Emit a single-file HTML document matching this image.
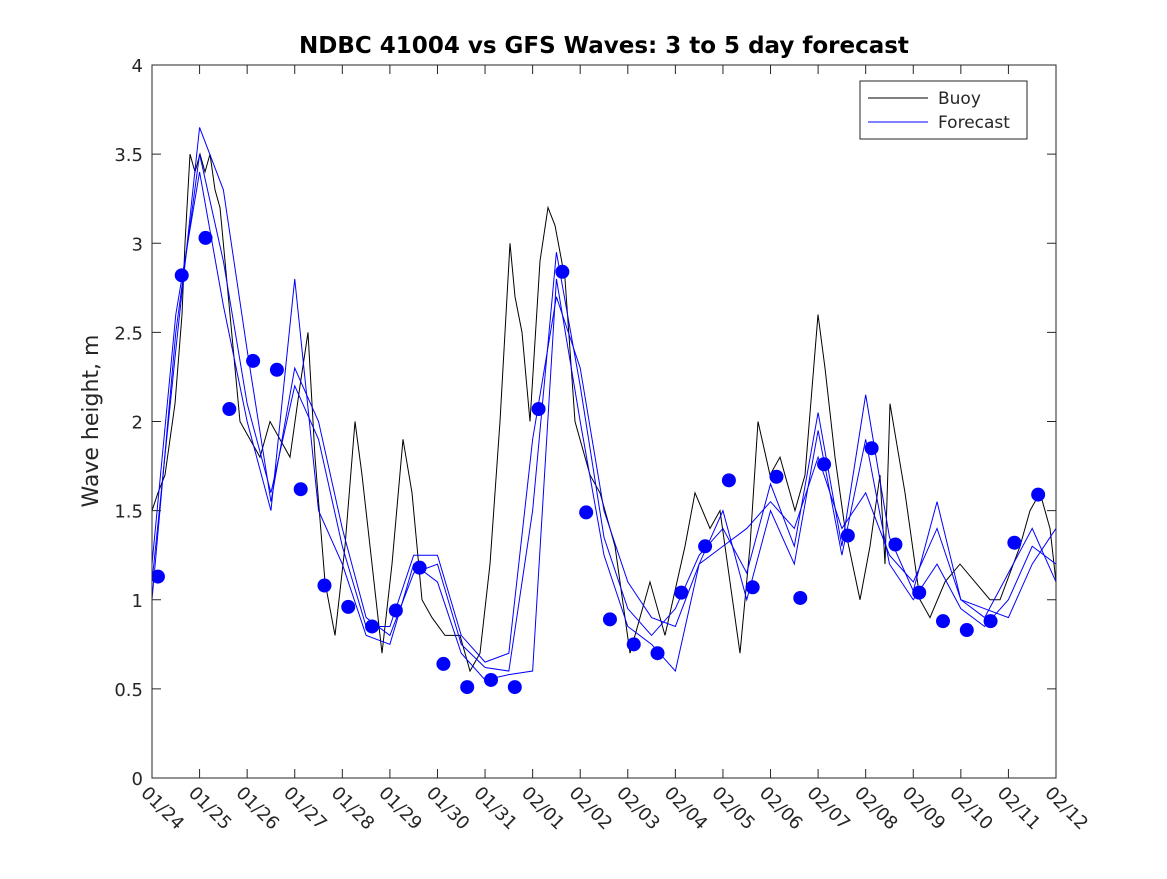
<!DOCTYPE html>
<html><head><meta charset="utf-8"><style>
body{margin:0;background:#fff;font-family:"DejaVu Sans",sans-serif}
svg text{font-family:"DejaVu Sans","Liberation Sans",sans-serif;fill:#262626}
</style></head><body>
<svg id="chart" width="1167" height="875" viewBox="0 0 1167 875" xmlns="http://www.w3.org/2000/svg">
<rect width="1167" height="875" fill="#fff"/>
<text x="604" y="53" text-anchor="middle" font-size="23" font-weight="bold" style="fill:#000">NDBC 41004 vs GFS Waves: 3 to 5 day forecast</text>
<text transform="translate(98,421) rotate(-90)" text-anchor="middle" font-size="22">Wave height, m</text>
<g id="plot"></g>
<g id="axes"></g>
<g>
<rect x="860" y="81" width="167" height="58" fill="#fff" stroke="#262626" stroke-width="1"/>
<line x1="868" y1="98" x2="928" y2="98" stroke="#000" stroke-width="1"/>
<text x="938" y="104" font-size="17">Buoy</text>
<line x1="868" y1="122" x2="928" y2="122" stroke="#00f" stroke-width="1"/>
<text x="938" y="128" font-size="17">Forecast</text>
</g>
</svg>
<script>
const xTickLabels=["01/24","01/25","01/26","01/27","01/28","01/29","01/30","01/31","02/01","02/02","02/03","02/04","02/05","02/06","02/07","02/08","02/09","02/10","02/11","02/12"];
const yTicks=[0,0.5,1,1.5,2,2.5,3,3.5,4];
const yTickLabels=["0","0.5","1","1.5","2","2.5","3","3.5","4"];
const buoyX=[152,158,165,175,182,185,190,195,200,205,210,215,220,225,230,240,250,260,270,280,290,300,308,315,325,335,345,355,362,372,382,392,403,412,422,432,445,460,470,480,490,500,510,515,522,530,540,548,555,565,575,590,600,615,630,650,665,685,695,710,720,730,740,750,758,770,780,795,805,818,825,835,845,860,870,880,885,890,905,920,930,945,960,975,990,1000,1020,1030,1040,1050,1056];
const buoyVals=[1.5,1.6,1.7,2.1,2.6,3.0,3.5,3.4,3.5,3.4,3.5,3.3,3.2,2.9,2.6,2.0,1.9,1.8,2.0,1.9,1.8,2.2,2.5,1.8,1.1,0.8,1.3,2.0,1.7,1.2,0.7,1.2,1.9,1.6,1.0,0.9,0.8,0.8,0.6,0.7,1.2,2.0,3.0,2.7,2.5,2.0,2.9,3.2,3.1,2.8,2.0,1.7,1.6,1.3,0.7,1.1,0.8,1.3,1.6,1.4,1.5,1.1,0.7,1.3,2.0,1.7,1.8,1.5,1.7,2.6,2.3,1.8,1.4,1.0,1.3,1.7,1.2,2.1,1.6,1.0,0.9,1.1,1.2,1.1,1.0,1.0,1.3,1.5,1.6,1.4,1.1];
const fcDays=[0,0.5,1,1.5,2,2.5,3,3.5,4,4.5,5,5.5,6,6.5,7,7.5,8,8.5,9,9.5,10,10.5,11,11.5,12,12.5,13,13.5,14,14.5,15,15.5,16,16.5,17,17.5,18,18.5,19];
const fc1=[1.1,2.4,3.65,3.3,2.4,1.55,2.3,2.0,1.4,0.9,0.8,1.15,1.2,0.75,0.62,0.6,1.5,2.95,2.2,1.35,0.95,0.8,0.95,1.25,1.4,1.15,1.65,1.3,2.05,1.3,2.15,1.35,1.05,1.55,1.0,0.9,1.15,1.4,1.1];
const fc2=[1.2,2.6,3.4,2.65,2.0,1.5,2.8,1.5,1.2,0.8,0.75,1.2,1.1,0.7,0.55,0.58,0.6,2.8,2.0,1.25,0.85,0.75,0.6,1.2,1.5,1.0,1.5,1.2,1.95,1.25,1.9,1.2,1.0,1.2,0.95,0.85,1.0,1.3,1.2];
const fc3=[1.0,2.5,3.5,2.9,2.1,1.6,2.2,1.9,1.3,0.85,0.85,1.25,1.25,0.8,0.65,0.7,1.9,2.7,2.3,1.5,1.1,0.9,0.85,1.2,1.3,1.4,1.55,1.4,1.8,1.4,1.6,1.25,1.1,1.4,1.0,0.95,0.9,1.2,1.4];
const dotDays=[];for(let i=0;i<38;i++)dotDays.push(0.125+0.5*i);
const dotVals=[1.13,2.82,3.03,2.07,2.34,2.29,1.62,1.08,0.96,0.85,0.94,1.18,0.64,0.51,0.55,0.51,2.07,2.84,1.49,0.89,0.75,0.70,1.04,1.30,1.67,1.07,1.69,1.01,1.76,1.36,1.85,1.31,1.04,0.88,0.83,0.88,1.32,1.59];

const L=152,R=1056,T=65,B=778,NS="http://www.w3.org/2000/svg";
const xS=d=>L+d*(R-L)/19;
const yS=v=>B-v*(B-T)/4;
const plot=document.getElementById('plot'),axes=document.getElementById('axes');
function mk(tag,attrs,parent){const e=document.createElementNS(NS,tag);for(const k in attrs)e.setAttribute(k,attrs[k]);parent.appendChild(e);return e;}
const cp=mk('clipPath',{id:'clip'},plot);mk('rect',{x:L,y:T,width:R-L,height:B-T},cp);
const g=mk('g',{'clip-path':'url(#clip)'},plot);
let p=mk('polyline',{points:buoyX.map((x,i)=>x+','+yS(buoyVals[i])).join(' '),fill:'none',stroke:'#000','stroke-width':1},g);


[fc1,fc2,fc3].forEach((s,k)=>{
 const e=mk('polyline',{points:fcDays.map((d,i)=>xS(d)+','+yS(s[i])).join(' '),fill:'none',stroke:'#00f','stroke-width':1},g);
 
 
});
dotDays.forEach((d,i)=>{
 const c=mk('circle',{cx:xS(d),cy:yS(dotVals[i]),r:7,fill:'#00f'},g);
 
 
});
const box=mk('rect',{x:L,y:T,width:R-L,height:B-T,fill:'none',stroke:'#262626','stroke-width':1},axes);


xTickLabels.forEach((lab,i)=>{
 const x=xS(i);
 mk('line',{x1:x,y1:B,x2:x,y2:B-9,stroke:'#262626'},axes);
 mk('line',{x1:x,y1:T,x2:x,y2:T+9,stroke:'#262626'},axes);
 const t=mk('text',{transform:`translate(${x-12},${B+16}) rotate(45)`,'font-size':18},axes);
 t.textContent=lab;
 
 
});
yTicks.forEach((v,i)=>{
 const y=yS(v);
 mk('line',{x1:L,y1:y,x2:L+9,y2:y,stroke:'#262626'},axes);
 mk('line',{x1:R,y1:y,x2:R-9,y2:y,stroke:'#262626'},axes);
 const t=mk('text',{x:L-9,y:y+7,'text-anchor':'end','font-size':18},axes);
 t.textContent=yTickLabels[i];
 
 
});
</script>
</body></html>
